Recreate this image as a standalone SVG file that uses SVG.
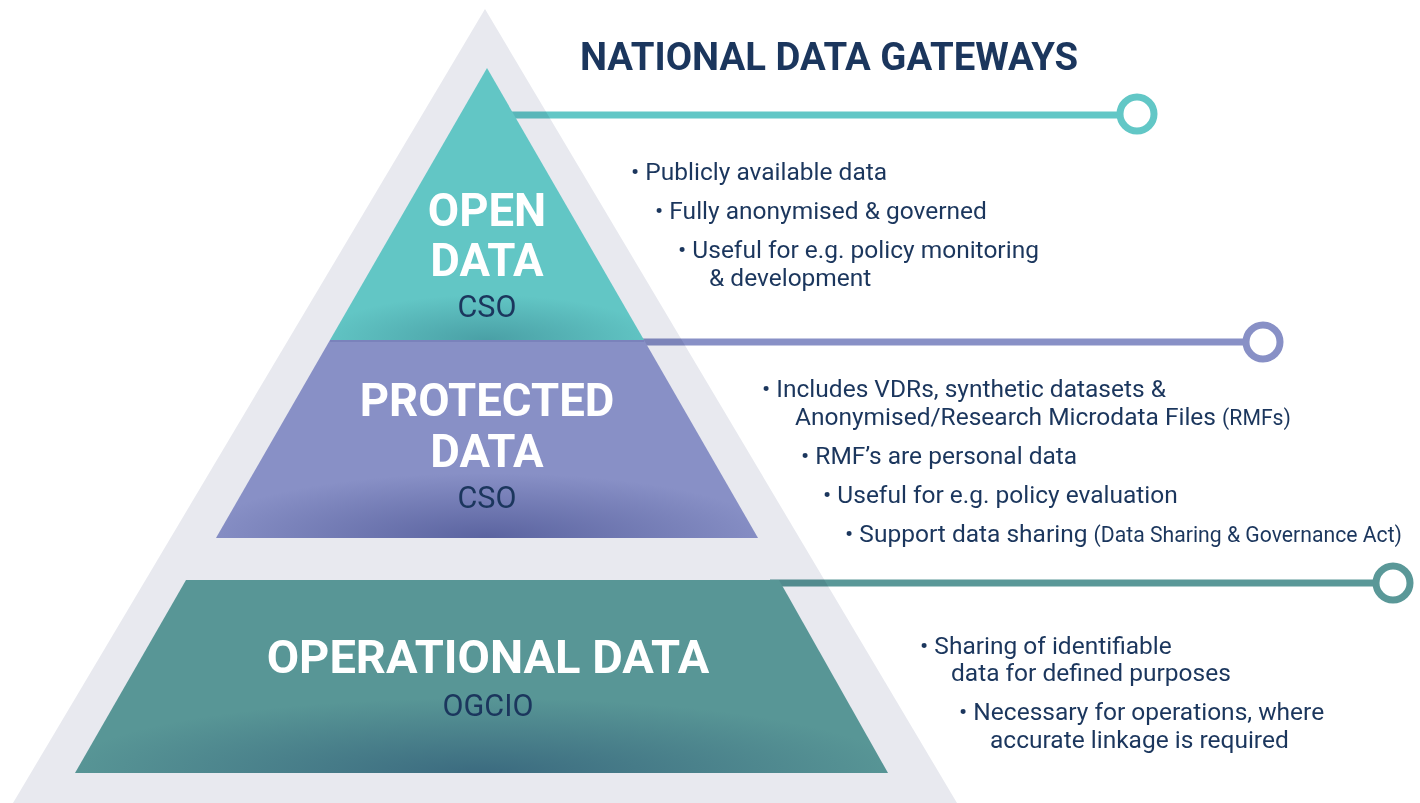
<svg xmlns="http://www.w3.org/2000/svg" width="1420" height="803" viewBox="0 0 1420 803">
  <defs>
    <style>
      .title { font-family: Roboto, "Liberation Sans", sans-serif; font-weight: 700; font-size: 38.3px; fill: #1b365d; }
      .tier { font-family: Roboto, "Liberation Sans", sans-serif; font-weight: 700; font-size: 45.5px; fill: #ffffff; text-anchor: middle; }
      .tier.wide { font-size: 47px; }
      .owner { font-family: Roboto, "Liberation Sans", sans-serif; font-weight: 400; font-size: 30.5px; fill: #1b365d; text-anchor: middle; }
      .note { font-family: Roboto, "Liberation Sans", sans-serif; font-weight: 400; font-size: 24.5px; fill: #1b365d; }
      .small { font-size: 21.2px; }
      .link { fill: none; stroke-width: 7; }
      .ring { fill: #ffffff; stroke-width: 7; }
    </style>
    <!-- darker glow along the base of each tier -->
    <radialGradient id="shadeOpen" gradientUnits="userSpaceOnUse" cx="0" cy="0" r="1" gradientTransform="translate(487 340) scale(170 45)">
      <stop offset="0" stop-color="#3f8f98" stop-opacity="0.7"/>
      <stop offset="1" stop-color="#3f8f98" stop-opacity="0"/>
    </radialGradient>
    <radialGradient id="shadeProt" gradientUnits="userSpaceOnUse" cx="0" cy="0" r="1" gradientTransform="translate(487 538) scale(290 65)">
      <stop offset="0" stop-color="#4f5896" stop-opacity="0.8"/>
      <stop offset="1" stop-color="#4f5896" stop-opacity="0"/>
    </radialGradient>
    <radialGradient id="shadeOps" gradientUnits="userSpaceOnUse" cx="0" cy="0" r="1" gradientTransform="translate(482 773) scale(420 75)">
      <stop offset="0" stop-color="#34607a" stop-opacity="0.8"/>
      <stop offset="1" stop-color="#34607a" stop-opacity="0"/>
    </radialGradient>
  </defs>

  <rect width="1420" height="803" fill="#ffffff"/>

  <!-- background pyramid -->
  <polygon id="backdrop" points="485,9 957,803 13,803" fill="#e8e9ef"/>

  <!-- connectors from each tier to its ring -->
  <g id="connectors" style="mix-blend-mode:multiply">
    <line class="link" x1="500" y1="115" x2="1122" y2="115" stroke="#62c7c6"/>
    <circle class="ring" cx="1137" cy="114" r="17" stroke="#62c7c6"/>
    <line class="link" x1="630" y1="342" x2="1248" y2="342" stroke="#8890c6"/>
    <circle class="ring" cx="1263" cy="342" r="17" stroke="#8890c6"/>
    <line class="link" x1="770" y1="583" x2="1378" y2="583" stroke="#5a9898"/>
    <circle class="ring" cx="1393" cy="583" r="17" stroke="#5a9898"/>
  </g>

  <text class="title" x="580" y="70">NATIONAL DATA GATEWAYS</text>

  <g id="open-data">
    <polygon points="487,68 644,340 330,340" fill="#62c6c5"/>
    <polygon points="487,68 644,340 330,340" fill="url(#shadeOpen)"/>
    <text class="tier" x="487" y="226">OPEN</text>
    <text class="tier" x="487" y="276">DATA</text>
    <text class="owner" x="487" y="317">CSO</text>
  </g>

  <g id="protected-data">
    <polygon points="330,340 644,340 758,538 216,538" fill="#8890c6"/>
    <polygon points="330,340 644,340 758,538 216,538" fill="url(#shadeProt)"/>
    <line x1="330" y1="341" x2="644" y2="341" stroke="#7a82bb" stroke-width="2"/>
    <text class="tier" x="487" y="416">PROTECTED</text>
    <text class="tier" x="487" y="467">DATA</text>
    <text class="owner" x="487" y="508">CSO</text>
  </g>

  <g id="operational-data">
    <polygon points="186,580 779,580 888,773 75,773" fill="#589696"/>
    <polygon points="186,580 779,580 888,773 75,773" fill="url(#shadeOps)"/>
    <text class="tier wide" x="488" y="673">OPERATIONAL DATA</text>
    <text class="owner" x="488" y="716">OGCIO</text>
  </g>

  <g id="open-notes">
    <text class="note" x="631" y="180">• Publicly available data</text>
    <text class="note" x="655" y="219">• Fully anonymised &amp; governed</text>
    <text class="note" x="678" y="258">• Useful for e.g. policy monitoring</text>
    <text class="note" x="709" y="286">&amp; development</text>
  </g>

  <g id="protected-notes">
    <text class="note" x="762" y="397">• Includes VDRs, synthetic datasets &amp;</text>
    <text class="note" x="795" y="425">Anonymised/Research Microdata Files <tspan class="small">(RMFs)</tspan></text>
    <text class="note" x="801" y="464">• RMF’s are personal data</text>
    <text class="note" x="823" y="503">• Useful for e.g. policy evaluation</text>
    <text class="note" x="845" y="542">• Support data sharing <tspan class="small">(Data Sharing &amp; Governance Act)</tspan></text>
  </g>

  <g id="operational-notes">
    <text class="note" x="920" y="654">• Sharing of identifiable</text>
    <text class="note" x="951" y="681">data for defined purposes</text>
    <text class="note" x="959" y="720">• Necessary for operations, where</text>
    <text class="note" x="990" y="748">accurate linkage is required</text>
  </g>
</svg>
